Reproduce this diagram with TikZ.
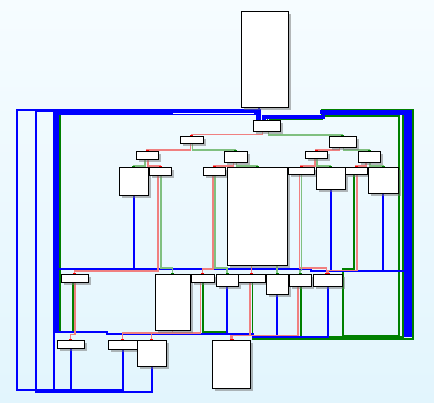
\documentclass[tikz,border=0pt]{standalone}
\usetikzlibrary{arrows.meta,shadows,backgrounds}
\definecolor{fcol}{RGB}{240,128,128}
\definecolor{tcol}{RGB}{128,192,128}
\definecolor{bcol}{RGB}{0,0,255}
\definecolor{gcol}{RGB}{0,128,0}
\definecolor{bgtop}{RGB}{246,252,255}
\definecolor{bgbot}{RGB}{226,245,253}
\begin{document}
\begin{tikzpicture}
[x=1pt,y=-1pt,
 blk/.style={draw=black,fill=white,line width=1pt,inner sep=0pt,
   drop shadow={shadow xshift=2.5pt,shadow yshift=-2.5pt,fill=black!55,opacity=.5}},
 sz/.style 2 args={minimum width=#1pt,minimum height=#2pt},
 fe/.style={draw=fcol,line width=1.9pt,-{Rectangle[length=1.6pt,width=2.6pt,color=red]}},
 te/.style={draw=tcol,line width=1.9pt,-{Rectangle[length=1.6pt,width=2.6pt,color=gcol]}},
 ue/.style={draw=bcol,line width=2pt},
 bk/.style={draw=gcol,line width=1.8pt},
 fat/.style={draw=bcol,line width=5.5pt}]
\useasboundingbox (0,0) rectangle (434,403);
\node[blk, sz={47}{96}] (en) at (264.5,60) {};
\node[blk, sz={27}{11}] (hd) at (266.5,126.5) {};
\node[blk, sz={23}{7}]  (a1) at (191.5,140.5) {};
\node[blk, sz={27}{11}] (a2) at (342.5,142.5) {};
\node[blk, sz={22}{8}]  (b1) at (147,156) {};
\node[blk, sz={23}{11}] (b2) at (235.5,157.5) {};
\node[blk, sz={22}{7}]  (b3) at (316,155.5) {};
\node[blk, sz={22}{11}] (b4) at (369,157.5) {};
\node[blk, sz={29}{28}] (c1) at (133.5,182) {};
\node[blk, sz={22}{8}]  (c2) at (160,172) {};
\node[blk, sz={22}{8}]  (c3) at (214,172) {};
\node[blk, sz={60}{98}] (c4) at (257,217) {};
\node[blk, sz={26}{7}]  (c5) at (301,171.5) {};
\node[blk, sz={29}{22}] (c6) at (330.5,179) {};
\node[blk, sz={22}{7}]  (c7) at (356,171.5) {};
\node[blk, sz={30}{26}] (c8) at (383,181) {};
\node[blk, sz={27}{8}]  (d1) at (74.5,279) {};
\node[blk, sz={35}{56}] (d2) at (172.5,303) {};
\node[blk, sz={23}{8}]  (d3) at (202.5,279) {};
\node[blk, sz={22}{12}] (d4) at (227,281) {};
\node[blk, sz={27}{8}]  (d5) at (251.5,279) {};
\node[blk, sz={22}{20}] (d6) at (277,285) {};
\node[blk, sz={22}{12}] (d7) at (300,281) {};
\node[blk, sz={29}{12}] (d8) at (327.5,281) {};
\node[blk, sz={27}{8}]  (e1) at (70.5,345) {};
\node[blk, sz={29}{9}]  (e2) at (122.5,345.5) {};
\node[blk, sz={29}{26}] (e3) at (151.5,354) {};
\node[blk, sz={38}{48}] (e4) at (231,365) {};
\begin{scope}[on background layer]
\shade[top color=bgtop,bottom color=bgbot] (0,0) rectangle (434,403);
% back edges, true branch
\draw[bk] (d1.south) ++(-1.5,0) |- (59.8,332) -- (59.8,114) -| ([xshift=-10pt]hd.north);
\draw[bk] (d3.south) ++(0.5,0) |- (226,331.7) |- (107,334.5) |- (56,332);
\draw[bk] (d5.south) ++(1,0) |- (412.7,338.8) -- (412.7,109.5) -- (322,109.5) -- (322,119) -| ([xshift=3pt]hd.north);
\draw[bk] (d7.south) ++(0.7,0) |- (402.7,337.3) -- (402.7,113) -- (323,113) -- (323,117) -| ([xshift=1pt]hd.north);
\draw[bk] (c7.south) ++(-2,0) |- (342.7,269.3) |- (399,336) -- (399,115.8) -| ([xshift=5pt]hd.north);
% back edges, plain
\draw[ue] (c1.south) |- (56,269.5) -- (56,112) -| ([xshift=-8pt]hd.north);
\draw[ue] (c8.south) |- (311,271.5) |- (56,269.5) -- (56,112) -| ([xshift=-8pt]hd.north);
\draw[ue] (c6.south) |- (408,271.5) -- (408,112.7) -- (323,112.7) -- (323,116.7) -| ([xshift=-2pt]hd.north);
\draw[ue] (d4.south) |- (107,334.5) |- (56,332) -- (56,112) -| ([xshift=-8pt]hd.north);
\draw[ue] (d6.south) |- (253,336.5) |- (107,334.5) |- (56,332) -- (56,112) -| ([xshift=-8pt]hd.north);
\draw[ue] (d8.south) |- (253,337.5) |- (107,334.5) |- (56,332) -- (56,112) -| ([xshift=-8pt]hd.north);
\draw[ue] (e1.south) |- (17,390) -- (17,110) -| ([xshift=-10pt]hd.north);
\draw[ue] (e2.south) |- (54,390.5) -- (54,112) -| ([xshift=-8pt]hd.north);
\draw[ue] (e3.south) |- (36,392) -- (36,111) -| ([xshift=-9pt]hd.north);
\draw[ue] ([xshift=-6pt]en.south) -- ([xshift=-8pt]hd.north);
% merged bundles
\draw[fat] (56,332) -- (56,112) -- (258.5,112) -- (258.5,121);
\draw[white,line width=.6pt] (173,113.3) -- (254,113.3);
\draw[fat,line width=7.5pt] (408,337) -- (408,112.5);
\draw[fat] (411.7,112.5) -- (323,112.5) -- (323,114.5);
\draw[fat,line width=4pt] (325,116.7) -- (264,116.7) -- (264,121);
% forward edges
\draw[fe] (hd.south) ++(-4,0) -- ++(0,2) -| (a1.north);
\draw[te] (hd.south) ++(2,0) -- ++(0,2.5) -| (a2.north);
\draw[fe] (a1.south) ++(-1,0) -- ++(0,5.5) -| (b1.north);
\draw[te] (a1.south) ++(1,0) -- ++(0,5.5) -| (b2.north);
\draw[fe] (a2.south) ++(-3,0) -- ++(0,1.7) -| (b3.north);
\draw[te] (a2.south) ++(1,0) -- ++(0,1.7) -| (b4.north);
\draw[te] (b1.south) ++(-2,0) -- ++(0,5.7) -| (c1.north);
\draw[fe] (b1.south) ++(1,0) -- ++(0,5.7) -| (c2.north);
\draw[fe] (b2.south) ++(-2,0) -- ++(0,2.7) -| (c3.north);
\draw[te] (b2.south) ++(1,0) -- ++(0,2.7) -| (c4.north);
\draw[fe] (b3.south) ++(-1,0) -- ++(0,6.7) -| (c5.north);
\draw[te] (b3.south) ++(1,0) -- ++(0,6.7) -| (c6.north);
\draw[fe] (b4.south) ++(-3,0) -- ++(0,2.7) -| (c7.north);
\draw[te] (b4.south) ++(1,0) -- ++(0,2.7) -| (c8.north);
\draw[fe] (c2.south) ++(-2,0) -- ++(0,94.5) -| (d1.north);
\draw[te] (c2.south) ++(1,0) -- ++(0,91.5) -| (d2.north);
\draw[fe] (c3.south) ++(-1,0) -- ++(0,92.5) -| (d3.north);
\draw[te] (c3.south) ++(1,0) -- ++(0,91.5) -| (d4.north);
\draw[fe] (d5.north |- c4.south) -- (d5.north);
\draw[te] (d6.north |- c4.south) -- (d6.north);
\draw[fe] (c5.south) ++(-1.5,0) -- ++(0,92.5) -| ([xshift=-1pt]d8.north);
\draw[te] (c5.south) ++(0.5,0) -- ++(0,95) -| (d7.north);
\draw[fe] (c7.south) ++(0.7,0) -- ++(0,95) -| ([xshift=0.5pt]d8.north);
\draw[fe] (d1.south) ++(0.5,0) -- ++(0,51) -| (e1.north);
\draw[fe] (d2.south) -- ++(0,1.5) -| (e2.north);
\draw[fe] (d3.south) ++(-2,0) -- ++(0,49.5) -| (e3.north);
\draw[fe] (d5.south) ++(-1.5,0) -- ++(0,52) -| (e4.north);
\draw[fe] (d7.south) ++(-2,0) -- ++(0,48) -| ([xshift=1pt]e4.north);
\end{scope}
\end{tikzpicture}
\end{document}
